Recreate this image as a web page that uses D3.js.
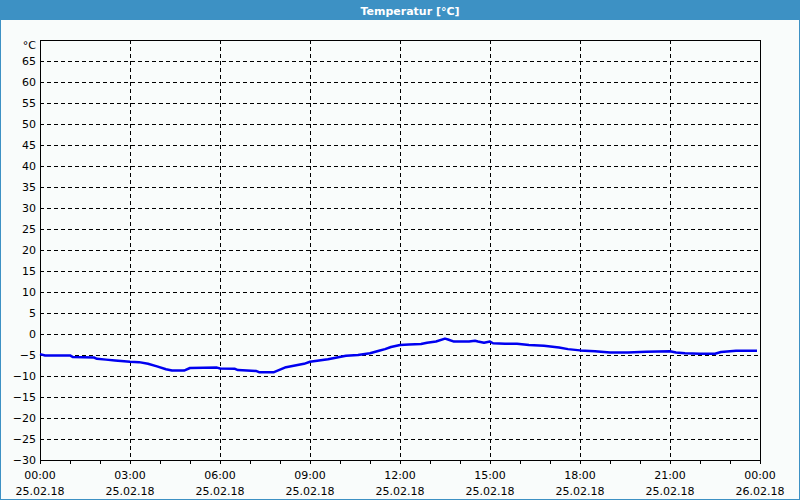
<!DOCTYPE html>
<html><head><meta charset="utf-8">
<script src="https://cdn.jsdelivr.net/npm/d3@7"></script>
<style>html,body{margin:0;padding:0;background:#f9fcfb;}svg{display:block;}</style>
</head><body><svg id="c" width="800" height="500"></svg>
<script>
const title = "Temperatur [°C]";
const unitLabel = "°C";
const yTicks = [-30,-25,-20,-15,-10,-5,0,5,10,15,20,25,30,35,40,45,50,55,60,65];
const xTickHours = [0,3,6,9,12,15,18,21,24];
const xTimeLabels = ["00:00","03:00","06:00","09:00","12:00","15:00","18:00","21:00","00:00"];
const xDateLabels = ["25.02.18","25.02.18","25.02.18","25.02.18","25.02.18","25.02.18","25.02.18","25.02.18","26.02.18"];
const hours = [0.0,0.17,1.0,1.1,1.8,1.9,2.2,2.5,3.0,3.3,3.6,3.9,4.2,4.4,4.8,5.0,5.9,6.0,6.5,6.6,7.2,7.3,7.8,8.0,8.2,8.5,8.8,9.0,9.3,9.6,9.9,10.2,10.6,11.0,11.3,11.5,11.7,12.0,12.3,12.7,12.9,13.2,13.5,13.6,13.8,14.3,14.5,14.6,14.8,15.0,15.1,15.5,15.9,16.3,16.8,17.3,17.6,18.0,18.5,19.0,19.6,20.2,21.0,21.2,21.5,22.0,22.5,22.7,23.2,23.9];
const temps = [-4.8,-5.1,-5.1,-5.5,-5.6,-5.9,-6.1,-6.3,-6.6,-6.7,-7.1,-7.7,-8.4,-8.7,-8.7,-8.1,-8.0,-8.2,-8.3,-8.6,-8.8,-9.1,-9.1,-8.5,-7.9,-7.5,-7.1,-6.6,-6.3,-6.0,-5.6,-5.2,-5.0,-4.6,-4.0,-3.6,-3.1,-2.6,-2.5,-2.4,-2.1,-1.8,-1.1,-1.3,-1.8,-1.8,-1.6,-1.8,-2.1,-1.8,-2.2,-2.3,-2.3,-2.6,-2.8,-3.2,-3.6,-3.9,-4.1,-4.4,-4.4,-4.2,-4.1,-4.4,-4.6,-4.7,-4.7,-4.3,-4.0,-4.0];

const svg = d3.select("#c");
const W = 800, H = 500;
const L = 40, R = 760, T = 40, B = 460;
const font = "Tahoma, 'DejaVu Sans', Verdana, sans-serif";

// window frame + title bar
svg.append("rect").attr("x",0).attr("y",0).attr("width",W).attr("height",H).attr("fill","#f9fcfb");
svg.append("rect").attr("x",0.5).attr("y",0.5).attr("width",W-1).attr("height",H-1).attr("fill","none").attr("stroke","#3d91c4");
svg.append("rect").attr("x",0).attr("y",0).attr("width",W).attr("height",20).attr("fill","#3d91c4");
svg.append("text").attr("x",410).attr("y",14.5).attr("text-anchor","middle")
  .attr("font-family",font).attr("font-size","11px").attr("font-weight","bold").attr("fill","#ffffff").text(title);

const x = d3.scaleLinear().domain([0,24]).range([L,R]);
const y = d3.scaleLinear().domain([-30,70]).range([B,T]);

// grid
const g = svg.append("g").attr("shape-rendering","crispEdges");
g.selectAll(".hg").data(yTicks.filter(v=>v>-30)).enter().append("line")
  .attr("x1",L).attr("x2",R).attr("y1",d=>Math.round(y(d))+0.5).attr("y2",d=>Math.round(y(d))+0.5)
  .attr("stroke","#000").attr("stroke-dasharray","4,3").attr("stroke-width",1);
g.selectAll(".vg").data(xTickHours.filter(h=>h>0&&h<24)).enter().append("line")
  .attr("y1",T).attr("y2",B).attr("x1",d=>Math.round(x(d))+0.5).attr("x2",d=>Math.round(x(d))+0.5)
  .attr("stroke","#000").attr("stroke-dasharray","4,3").attr("stroke-width",1);

// axes with D3
const yAxis = d3.axisLeft(y).tickValues(yTicks).tickSize(0).tickPadding(4);
const ya = svg.append("g").attr("transform",`translate(${L},0)`).call(yAxis);
ya.select(".domain").remove();
ya.selectAll("text").attr("font-family",font).attr("font-size","11px").attr("fill","#000");

const xMinor = d3.axisBottom(x).tickValues(d3.range(0,25,1)).tickSize(4).tickFormat("");
const xm = svg.append("g").attr("transform",`translate(0,${B})`).attr("shape-rendering","crispEdges").call(xMinor);
xm.select(".domain").remove();
xm.selectAll("line").attr("stroke","#000");

const xa = svg.append("g").attr("transform",`translate(0,${B})`);
xa.selectAll(".t1").data(xTickHours).enter().append("text")
  .attr("x",d=>x(d)).attr("y",19).attr("text-anchor","middle")
  .attr("font-family",font).attr("font-size","11px").attr("fill","#000").text((d,i)=>xTimeLabels[i]);
xa.selectAll(".t2").data(xTickHours).enter().append("text")
  .attr("x",d=>x(d)).attr("y",35).attr("text-anchor","middle")
  .attr("font-family",font).attr("font-size","11px").attr("fill","#000").text((d,i)=>xDateLabels[i]);

// unit label
svg.append("text").attr("x",36).attr("y",y(70)+9).attr("text-anchor","end")
  .attr("font-family",font).attr("font-size","11px").attr("fill","#000").text(unitLabel);

// plot frame
svg.append("rect").attr("x",L+0.5).attr("y",T+0.5).attr("width",R-L).attr("height",B-T)
  .attr("fill","none").attr("stroke","#000").attr("stroke-width",1).attr("shape-rendering","crispEdges");

// data line
const line = d3.line().x((d,i)=>x(hours[i])).y(d=>y(d));
svg.append("path").datum(temps).attr("d",line).attr("fill","none")
  .attr("stroke","#0000f0").attr("stroke-width",2.5).attr("stroke-linejoin","round");
</script></body></html>
